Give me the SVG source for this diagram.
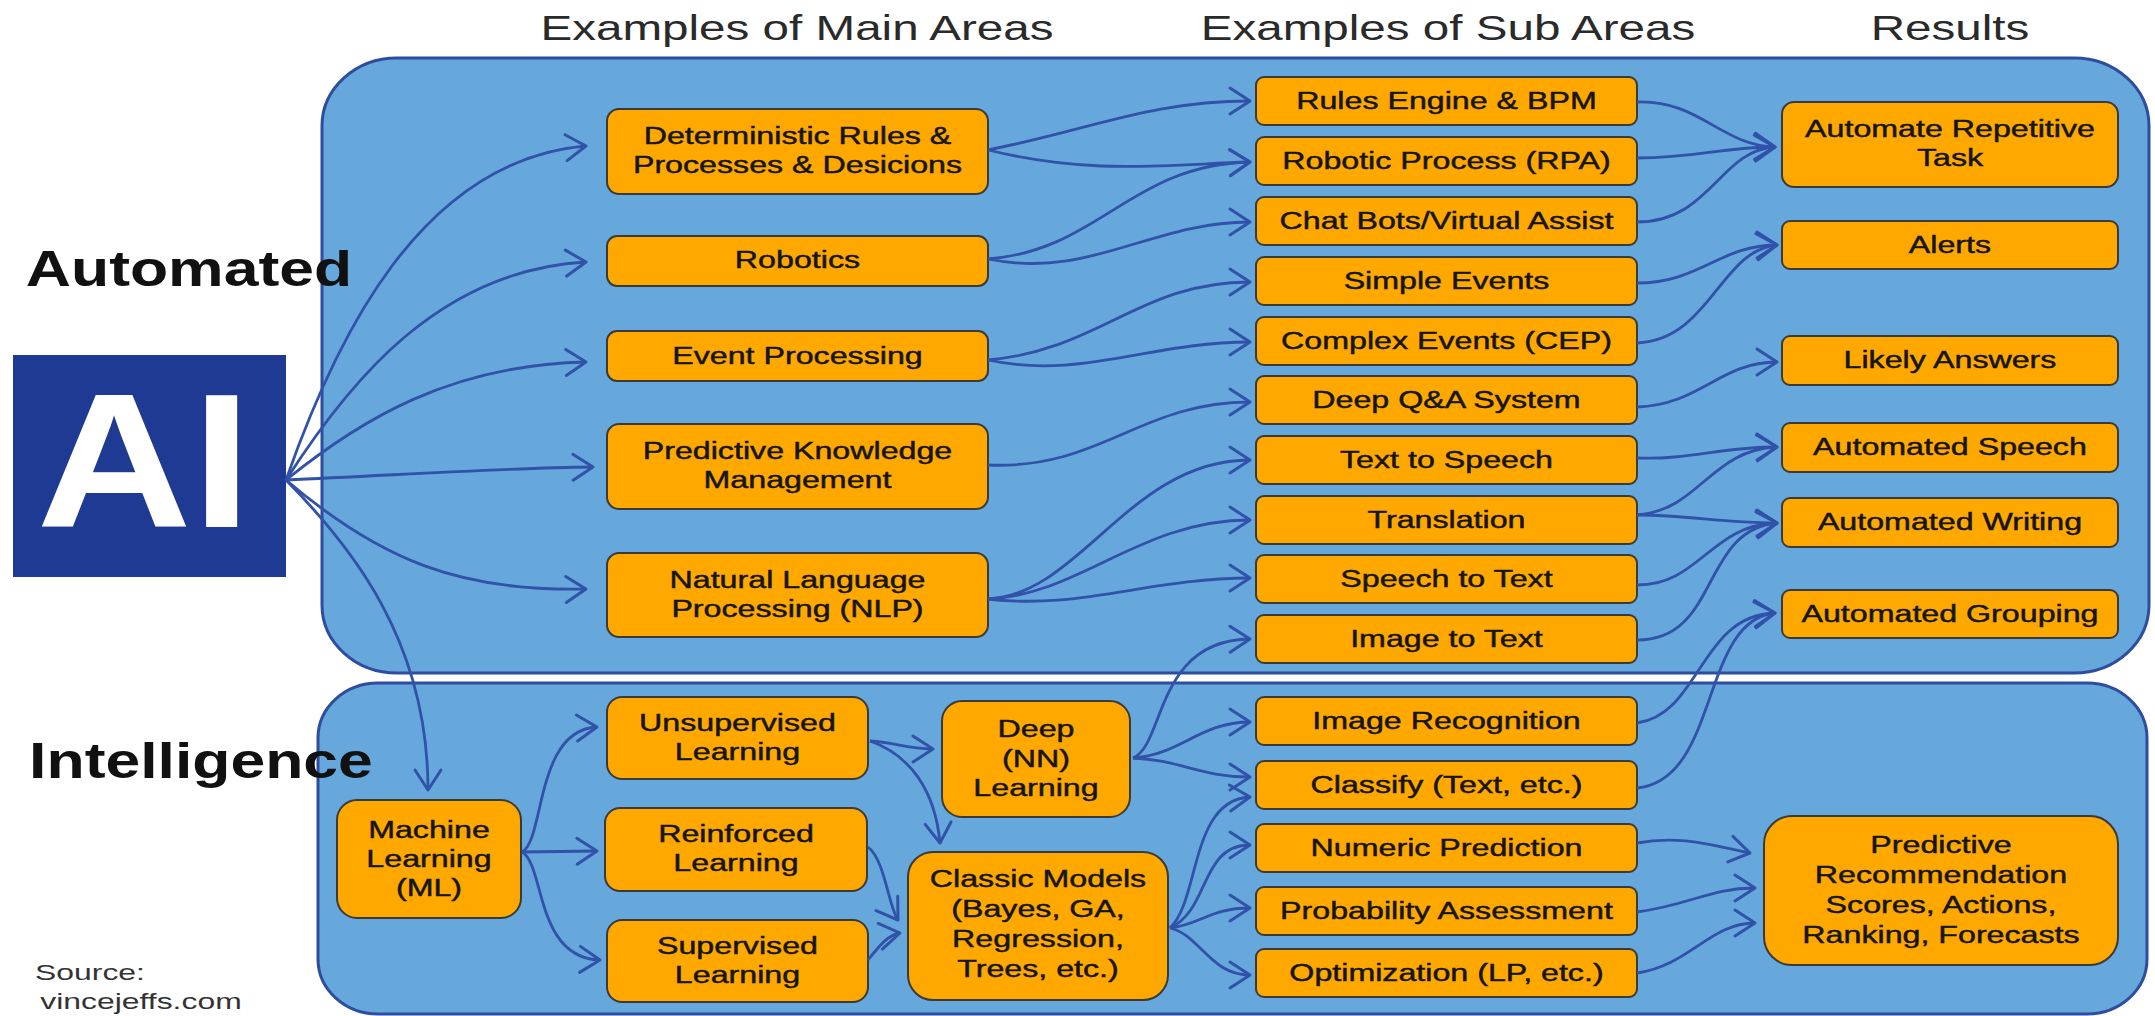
<svg xmlns="http://www.w3.org/2000/svg" width="2155" height="1016" viewBox="0 0 2155 1016">
<defs>
<marker id="ah" markerUnits="userSpaceOnUse" markerWidth="40" markerHeight="40" refX="0" refY="0" orient="auto" overflow="visible">
<path d="M-20,-13 L0,0 L-20,13" fill="none" stroke="#3152a8" stroke-width="3" stroke-linejoin="round" stroke-linecap="round"/>
</marker>
<style>
.panel{fill:#66a8dc;stroke:#2f4d9e;stroke-width:3}
.node rect{fill:#ffa800;stroke:#3a3a3a;stroke-width:2}
.t{font-family:"Liberation Sans",Arial,sans-serif;font-size:23px;fill:#151515;stroke:#151515;stroke-width:0.45;text-anchor:middle;transform-box:fill-box;transform-origin:center;transform:scaleX(1.4)}
.h{font-family:"Liberation Sans",Arial,sans-serif;font-size:35px;fill:#2a2a2a;text-anchor:middle;transform-box:fill-box;transform-origin:center;transform:scaleX(1.36)}
.big{font-family:"Liberation Sans",Arial,sans-serif;font-size:50px;font-weight:bold;fill:#111;text-anchor:middle;transform-box:fill-box;transform-origin:center;transform:scaleX(1.25)}
.src{font-family:"Liberation Sans",Arial,sans-serif;font-size:22px;fill:#333;text-anchor:middle;transform-box:fill-box;transform-origin:center;transform:scaleX(1.45)}
.conn path{fill:none;stroke:#3152a8;stroke-width:2.8;marker-end:url(#ah)}
</style>
</defs>
<rect width="2155" height="1016" fill="#ffffff"/>

<g id="panels">
<rect class="panel" x="322" y="58" width="1827" height="615" rx="75" ry="68"/>
<rect class="panel" x="318" y="683" width="1829" height="331" rx="60" ry="55"/>
</g>

<g id="headings">
<text class="h" x="797" y="40">Examples of Main Areas</text>
<text class="h" x="1448" y="40">Examples of Sub Areas</text>
<text class="h" x="1950" y="40">Results</text>
<text class="big" x="189" y="286">Automated</text>
<text class="big" x="201" y="778">Intelligence</text>
<text class="src" x="90" y="980">Source:</text>
<text class="src" x="141" y="1009">vincejeffs.com</text>
</g>

<g id="ai">
<rect x="13" y="355" width="273" height="222" fill="#1f3a93"/>
<text x="144" y="527" font-family="Liberation Sans,Arial,sans-serif" font-size="192" font-weight="bold" fill="#ffffff" text-anchor="middle" style="transform-box:fill-box;transform-origin:center;transform:scaleX(1.12)">AI</text>
</g>

<g id="main-det" class="node"><rect x="607" y="109" width="381" height="85" rx="12"/><text class="t" x="797.5" y="144">Deterministic Rules &amp;<tspan x="797.5" y="173">Processes &amp; Desicions</tspan></text></g>
<g id="main-rob" class="node"><rect x="607" y="236" width="381" height="50" rx="10"/><text class="t" x="797.5" y="268">Robotics</text></g>
<g id="main-evt" class="node"><rect x="607" y="331" width="381" height="50" rx="10"/><text class="t" x="797.5" y="364">Event Processing</text></g>
<g id="main-pkm" class="node"><rect x="607" y="424" width="381" height="85" rx="12"/><text class="t" x="797.5" y="459">Predictive Knowledge<tspan x="797.5" y="488">Management</tspan></text></g>
<g id="main-nlp" class="node"><rect x="607" y="553" width="381" height="84" rx="12"/><text class="t" x="797.5" y="588">Natural Language<tspan x="797.5" y="617">Processing (NLP)</tspan></text></g>

<g id="sub-rules" class="node"><rect x="1256" y="77" width="381" height="48" rx="8"/><text class="t" x="1446.5" y="109">Rules Engine &amp; BPM</text></g>
<g id="sub-rpa" class="node"><rect x="1256" y="137" width="381" height="48" rx="8"/><text class="t" x="1446.5" y="169">Robotic Process (RPA)</text></g>
<g id="sub-chat" class="node"><rect x="1256" y="197" width="381" height="48" rx="8"/><text class="t" x="1446.5" y="229">Chat Bots/Virtual Assist</text></g>
<g id="sub-simple" class="node"><rect x="1256" y="257" width="381" height="48" rx="8"/><text class="t" x="1446.5" y="289">Simple Events</text></g>
<g id="sub-complex" class="node"><rect x="1256" y="317" width="381" height="48" rx="8"/><text class="t" x="1446.5" y="349">Complex Events (CEP)</text></g>
<g id="sub-deepqa" class="node"><rect x="1256" y="376" width="381" height="48" rx="8"/><text class="t" x="1446.5" y="408">Deep Q&amp;A System</text></g>
<g id="sub-tts" class="node"><rect x="1256" y="436" width="381" height="48" rx="8"/><text class="t" x="1446.5" y="468">Text to Speech</text></g>
<g id="sub-trans" class="node"><rect x="1256" y="496" width="381" height="48" rx="8"/><text class="t" x="1446.5" y="528">Translation</text></g>
<g id="sub-stt" class="node"><rect x="1256" y="555" width="381" height="48" rx="8"/><text class="t" x="1446.5" y="587">Speech to Text</text></g>
<g id="sub-itt" class="node"><rect x="1256" y="615" width="381" height="48" rx="8"/><text class="t" x="1446.5" y="647">Image to Text</text></g>
<g id="sub-imgrec" class="node"><rect x="1256" y="697" width="381" height="48" rx="8"/><text class="t" x="1446.5" y="729">Image Recognition</text></g>
<g id="sub-classify" class="node"><rect x="1256" y="761" width="381" height="48" rx="8"/><text class="t" x="1446.5" y="793">Classify (Text, etc.)</text></g>
<g id="sub-numeric" class="node"><rect x="1256" y="824" width="381" height="48" rx="8"/><text class="t" x="1446.5" y="856">Numeric Prediction</text></g>
<g id="sub-prob" class="node"><rect x="1256" y="887" width="381" height="48" rx="8"/><text class="t" x="1446.5" y="919">Probability Assessment</text></g>
<g id="sub-opt" class="node"><rect x="1256" y="949" width="381" height="48" rx="8"/><text class="t" x="1446.5" y="981">Optimization (LP, etc.)</text></g>

<g id="res-auto" class="node"><rect x="1782" y="102" width="336" height="85" rx="12"/><text class="t" x="1950" y="137">Automate Repetitive<tspan x="1950" y="166">Task</tspan></text></g>
<g id="res-alerts" class="node"><rect x="1782" y="221" width="336" height="48" rx="8"/><text class="t" x="1950" y="253">Alerts</text></g>
<g id="res-likely" class="node"><rect x="1782" y="336" width="336" height="49" rx="8"/><text class="t" x="1950" y="368">Likely Answers</text></g>
<g id="res-speech" class="node"><rect x="1782" y="423" width="336" height="49" rx="8"/><text class="t" x="1950" y="455">Automated Speech</text></g>
<g id="res-writing" class="node"><rect x="1782" y="498" width="336" height="49" rx="8"/><text class="t" x="1950" y="530">Automated Writing</text></g>
<g id="res-grouping" class="node"><rect x="1782" y="590" width="336" height="48" rx="8"/><text class="t" x="1950" y="622">Automated Grouping</text></g>
<g id="res-predrec" class="node"><rect x="1764" y="816" width="354" height="149" rx="28"/><text class="t" x="1941" y="853">Predictive<tspan x="1941" y="883">Recommendation</tspan><tspan x="1941" y="913">Scores, Actions,</tspan><tspan x="1941" y="943">Ranking, Forecasts</tspan></text></g>

<g id="ml" class="node"><rect x="337" y="800" width="184" height="118" rx="20"/><text class="t" x="429" y="838">Machine<tspan x="429" y="867">Learning</tspan><tspan x="429" y="896">(ML)</tspan></text></g>
<g id="unsup" class="node"><rect x="607" y="697" width="261" height="82" rx="15"/><text class="t" x="737.5" y="731">Unsupervised<tspan x="737.5" y="760">Learning</tspan></text></g>
<g id="reinf" class="node"><rect x="605" y="808" width="262" height="83" rx="15"/><text class="t" x="736" y="842">Reinforced<tspan x="736" y="871">Learning</tspan></text></g>
<g id="sup" class="node"><rect x="607" y="920" width="261" height="82" rx="15"/><text class="t" x="737.5" y="954">Supervised<tspan x="737.5" y="983">Learning</tspan></text></g>
<g id="deep" class="node"><rect x="942" y="701" width="188" height="116" rx="20"/><text class="t" x="1036" y="737">Deep<tspan x="1036" y="767">(NN)</tspan><tspan x="1036" y="796">Learning</tspan></text></g>
<g id="classic" class="node"><rect x="908" y="852" width="260" height="148" rx="25"/><text class="t" x="1038" y="887">Classic Models<tspan x="1038" y="917">(Bayes, GA,</tspan><tspan x="1038" y="947">Regression,</tspan><tspan x="1038" y="977">Trees, etc.)</tspan></text></g>

<g id="connectors" class="conn">
<path d="M286,480 C335,340 420,160 586,146"/>
<path d="M286,480 C350,380 440,270 586,262"/>
<path d="M286,480 C360,420 450,365 586,362"/>
<path d="M286,480 C400,475 500,468 593,467"/>
<path d="M286,480 C380,560 460,592 586,589"/>
<path d="M286,480 C350,545 428,640 428,790"/>

<path d="M988,150 C1090,130 1150,101 1250,101"/>
<path d="M988,150 C1090,175 1160,165 1250,162"/>
<path d="M988,259 C1100,250 1130,165 1250,162"/>
<path d="M988,259 C1090,280 1150,222 1250,222"/>
<path d="M988,360 C1100,350 1140,282 1250,282"/>
<path d="M988,360 C1080,380 1150,342 1250,342"/>
<path d="M988,465 C1100,470 1140,402 1250,402"/>
<path d="M988,599 C1080,595 1130,460 1250,460"/>
<path d="M988,599 C1080,595 1140,520 1250,520"/>
<path d="M988,599 C1080,610 1150,578 1250,578"/>

<path d="M1133,758 C1165,745 1155,640 1250,639"/>
<path d="M1133,758 C1180,755 1200,722 1250,722"/>
<path d="M1133,758 C1180,760 1200,777 1250,777"/>
<path d="M1170,928 C1200,900 1190,800 1250,797"/>
<path d="M1170,928 C1210,910 1200,845 1250,845"/>
<path d="M1170,928 C1200,925 1210,908 1250,908"/>
<path d="M1170,928 C1200,935 1210,975 1250,975"/>

<path d="M522,852 C545,840 535,730 597,727"/>
<path d="M522,852 L597,851"/>
<path d="M522,852 C545,865 535,958 600,960"/>
<path d="M870,741 C895,742 905,749 933,749"/>
<path d="M870,741 C910,755 935,790 940,843"/>
<path d="M868,847 C885,860 888,905 898,920"/>
<path d="M868,960 C880,945 888,935 900,933"/>

<path d="M1637,102 C1700,100 1720,145 1775,147"/>
<path d="M1637,158 C1700,158 1720,147 1775,147"/>
<path d="M1637,222 C1710,222 1720,150 1775,147"/>
<path d="M1637,283 C1700,283 1720,245 1777,245"/>
<path d="M1637,343 C1710,340 1720,250 1777,245"/>
<path d="M1637,407 C1700,405 1720,362 1777,362"/>
<path d="M1637,458 C1690,460 1720,447 1777,447"/>
<path d="M1637,515 C1700,510 1710,450 1777,447"/>
<path d="M1637,515 C1690,515 1720,523 1777,523"/>
<path d="M1637,585 C1700,585 1710,525 1777,523"/>
<path d="M1637,640 C1720,640 1700,530 1777,523"/>
<path d="M1637,723 C1700,715 1700,615 1775,613"/>
<path d="M1637,788 C1720,780 1700,620 1775,613"/>
<path d="M1637,843 C1680,835 1710,845 1750,853"/>
<path d="M1637,912 C1690,905 1710,888 1755,888"/>
<path d="M1637,973 C1690,965 1710,923 1755,923"/>
</g>
</svg>
